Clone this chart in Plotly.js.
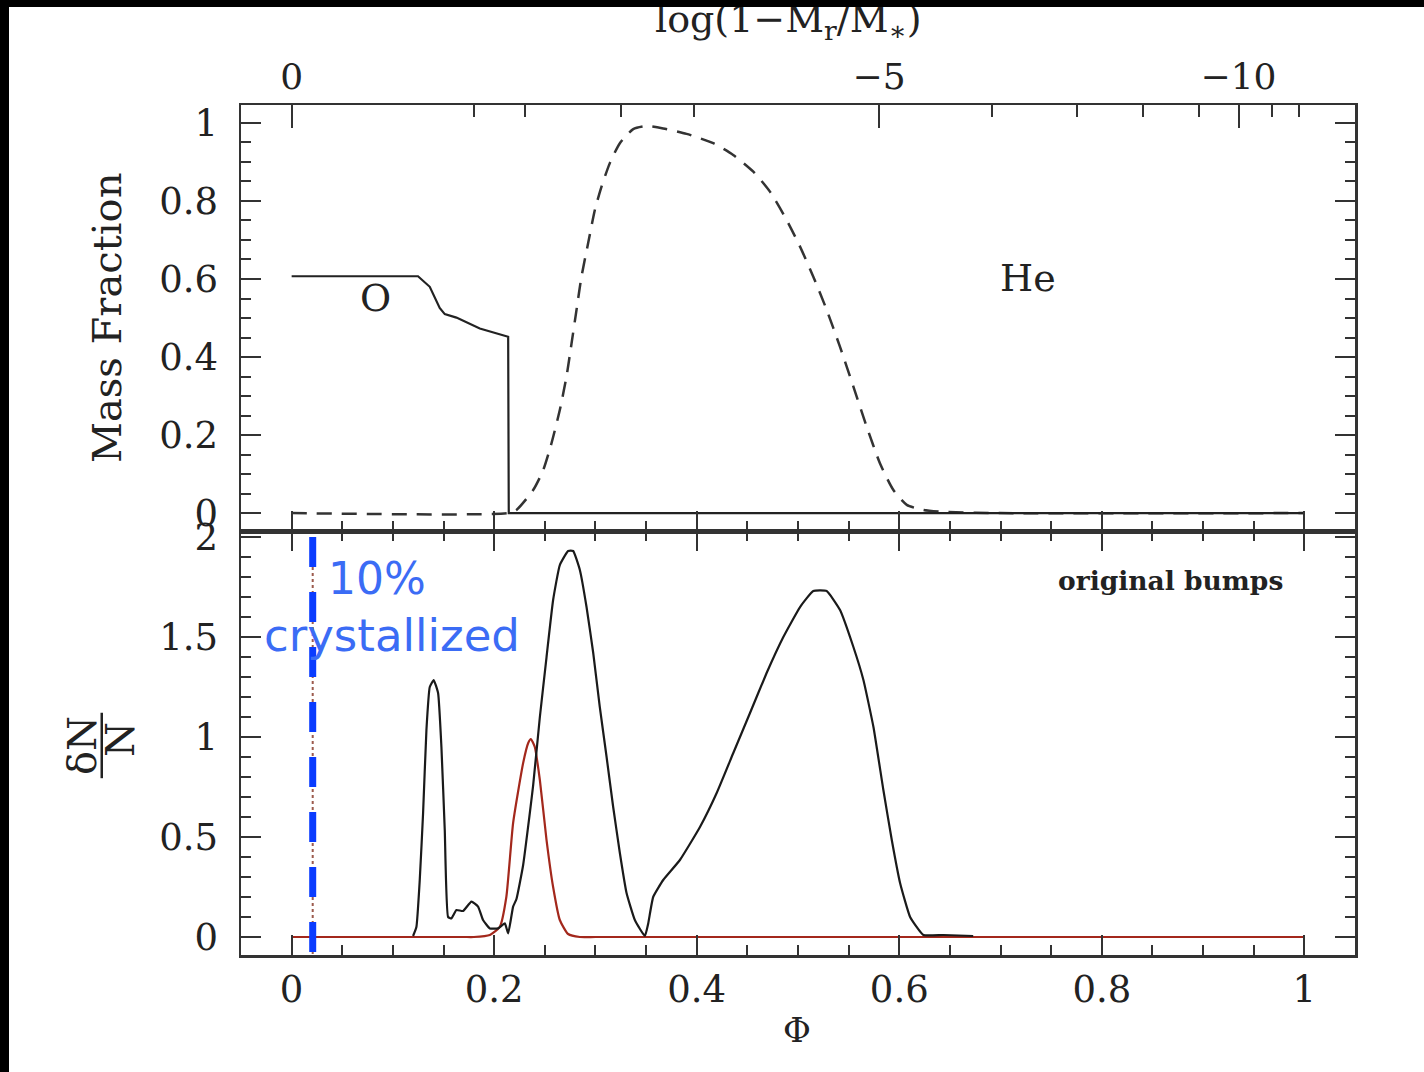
<!DOCTYPE html>
<html><head><meta charset="utf-8">
<script src="https://cdn.plot.ly/plotly-3.0.1.min.js"></script>
<style>
html,body{margin:0;padding:0;background:#000;width:1424px;height:1072px;overflow:hidden}
#plot{position:absolute;left:9px;top:7px;width:1415px;height:1065px;background:#fff}
</style></head><body><div id="plot"></div>
<script>
// ---- Top panel: mass fractions vs Phi ----
const oxyPhi = [0, 0.1248, 0.1364, 0.1462, 0.1512, 0.1627, 0.1858, 0.2138, 0.2144, 1.0];
const oxyVal = [0.607, 0.607, 0.580, 0.526, 0.510, 0.501, 0.473, 0.452, 0, 0];

const hePhi = [0, 0.2144, 0.222, 0.2385, 0.2484, 0.2566, 0.2648, 0.2714, 0.2764, 0.2813, 0.2862, 0.2928, 0.2994, 0.306, 0.3142, 0.3241, 0.3373, 0.3505, 0.3669, 0.390, 0.4163, 0.436, 0.4559, 0.4723, 0.4888, 0.502, 0.5151, 0.5283, 0.5415, 0.5547, 0.5679, 0.581, 0.5942, 0.6074, 0.6238, 0.6436, 0.70, 1.0];
const heVal = [0, 0, 0.008, 0.059, 0.110, 0.179, 0.264, 0.350, 0.435, 0.521, 0.606, 0.692, 0.777, 0.837, 0.897, 0.948, 0.984, 0.992, 0.986, 0.972, 0.948, 0.918, 0.875, 0.824, 0.751, 0.683, 0.606, 0.521, 0.426, 0.324, 0.221, 0.127, 0.059, 0.021, 0.008, 0.003, 0, 0];

// ---- Bottom panel: dN/N vs Phi ----
const bumpPhi = [0.1199, 0.1232, 0.1265, 0.1298, 0.1331, 0.1364, 0.1403, 0.1446, 0.1479, 0.1512, 0.1545, 0.1578, 0.1627, 0.1693, 0.1775, 0.1841, 0.1890, 0.1957, 0.2038, 0.2105, 0.2138, 0.2187, 0.222, 0.2286, 0.2385, 0.2451, 0.2517, 0.2582, 0.2648, 0.273, 0.278, 0.2846, 0.2912, 0.2978, 0.3043, 0.311, 0.3175, 0.3241, 0.3307, 0.3389, 0.3488, 0.3521, 0.357, 0.3669, 0.3834, 0.4032, 0.4197, 0.4361, 0.4526, 0.469, 0.4855, 0.502, 0.5151, 0.5283, 0.5415, 0.5547, 0.5646, 0.5745, 0.5843, 0.5926, 0.6008, 0.6107, 0.6238, 0.6436, 0.673];
const bumpVal = [0.005, 0.05, 0.285, 0.62, 1.035, 1.25, 1.285, 1.22, 0.95, 0.535, 0.10, 0.093, 0.135, 0.13, 0.177, 0.152, 0.085, 0.043, 0.043, 0.068, 0.018, 0.152, 0.19, 0.36, 0.76, 1.10, 1.40, 1.685, 1.86, 1.93, 1.93, 1.835, 1.65, 1.42, 1.15, 0.90, 0.65, 0.42, 0.22, 0.085, 0.005, 0.068, 0.20, 0.285, 0.385, 0.55, 0.72, 0.92, 1.12, 1.32, 1.50, 1.65, 1.73, 1.73, 1.635, 1.45, 1.285, 1.05, 0.735, 0.485, 0.27, 0.10, 0.01, 0.01, 0.005];

const newPhi = [0, 0.17, 0.18, 0.1957, 0.2055, 0.212, 0.2187, 0.2286, 0.2336, 0.2362, 0.2401, 0.2451, 0.2517, 0.2582, 0.2648, 0.273, 0.2846, 0.30, 0.50, 1.0];
const newVal = [0, 0, 0, 0.01, 0.05, 0.20, 0.57, 0.87, 0.97, 0.99, 0.95, 0.785, 0.485, 0.25, 0.085, 0.015, 0, 0, 0, 0];

const crystPhi = 0.0208;

// ---- Top (log) axis ticks ----
const topMajorPhi = [0, 0.580, 0.935];
const topMajorText = ['0', '\u22125', '\u221210'];
const topMinorPhi = [0.180, 0.230, 0.325, 0.397, 0.692, 0.775, 0.841, 0.896, 0.968, 0.995];

const INK = '#222';
const AX = '#333';
const FONT = 'DejaVu Serif';
const XR = [-0.05, 1.05];

const traces = [
  {x: newPhi, y: newVal, xaxis: 'x', yaxis: 'y', mode: 'lines',
   line: {color: '#a3281c', width: 2.2, shape: 'spline', smoothing: 0.5}, hoverinfo: 'skip'},
  {x: bumpPhi, y: bumpVal, xaxis: 'x', yaxis: 'y', mode: 'lines',
   line: {color: '#1a1a1a', width: 2.2, shape: 'spline', smoothing: 0.4}, hoverinfo: 'skip'},
  {x: hePhi, y: heVal, xaxis: 'x2', yaxis: 'y2', mode: 'lines',
   line: {color: '#333', width: 2.5, dash: '15px,10px', shape: 'spline', smoothing: 0.6}, hoverinfo: 'skip'},
  {x: oxyPhi, y: oxyVal, xaxis: 'x2', yaxis: 'y2', mode: 'lines',
   line: {color: INK, width: 2.2}, hoverinfo: 'skip'},
  {x: [0], y: [null], xaxis: 'x3', yaxis: 'y2', mode: 'lines', hoverinfo: 'skip'},
  {x: [0], y: [null], xaxis: 'x4', yaxis: 'y2', mode: 'lines', hoverinfo: 'skip'}
];

const tickCommon = {ticks: 'inside', tickwidth: 2, tickcolor: AX, showgrid: false, zeroline: false,
  showline: true, linewidth: 2.5, linecolor: AX};
const SPLIT = 0.4988;

const layout = {
  width: 1415, height: 1065,
  margin: {l: 232, r: 69, t: 98, b: 117, pad: 0},
  paper_bgcolor: '#fff', plot_bgcolor: '#fff',
  showlegend: false,
  font: {family: FONT, color: INK, size: 37},
  xaxis: Object.assign({}, tickCommon, {
    domain: [0, 1], anchor: 'y', range: XR, tick0: 0, dtick: 0.2, ticklen: 20,
    minor: {dtick: 0.05, tick0: 0, ticks: 'inside', ticklen: 10, tickwidth: 2, tickcolor: AX},
    mirror: 'ticks', tickfont: {family: FONT, size: 37, color: INK}, ticklabelstandoff: 0
  }),
  yaxis: Object.assign({}, tickCommon, {
    domain: [0, SPLIT], anchor: 'x', range: [-0.09, 2.03], tick0: 0, dtick: 0.5, ticklen: 20,
    minor: {dtick: 0.1, tick0: 0, ticks: 'inside', ticklen: 10, tickwidth: 2, tickcolor: AX},
    mirror: 'ticks', tickfont: {family: FONT, size: 37, color: INK}, ticklabelstandoff: 13
  }),
  xaxis2: Object.assign({}, tickCommon, {
    domain: [0, 1], anchor: 'y2', range: XR, tick0: 0, dtick: 0.2, ticklen: 20,
    minor: {dtick: 0.05, tick0: 0, ticks: 'inside', ticklen: 10, tickwidth: 2, tickcolor: AX},
    mirror: true, showticklabels: false
  }),
  yaxis2: Object.assign({}, tickCommon, {
    domain: [SPLIT, 1], anchor: 'x2', range: [-0.046, 1.046], tick0: 0, dtick: 0.2, ticklen: 20,
    minor: {dtick: 0.05, tick0: 0, ticks: 'inside', ticklen: 10, tickwidth: 2, tickcolor: AX},
    mirror: 'ticks', tickfont: {family: FONT, size: 37, color: INK}, ticklabelstandoff: 13
  }),
  xaxis3: {
    overlaying: 'x2', anchor: 'y2', side: 'top', range: XR,
    tickmode: 'array', tickvals: topMajorPhi, ticktext: topMajorText,
    ticks: 'inside', ticklen: 23, tickwidth: 2, tickcolor: AX,
    showline: false, showgrid: false, zeroline: false,
    tickfont: {family: FONT, size: 36, color: INK}, ticklabelstandoff: 8
  },
  xaxis4: {
    overlaying: 'x2', anchor: 'y2', side: 'top', range: XR,
    tickmode: 'array', tickvals: topMinorPhi,
    ticks: 'inside', ticklen: 12, tickwidth: 2, tickcolor: AX,
    showline: false, showgrid: false, zeroline: false, showticklabels: false
  },
  shapes: [
    {type: 'line', xref: 'x', yref: 'y domain', x0: crystPhi, x1: crystPhi, y0: 0.986, y1: 0,
     line: {color: '#9c5b4e', width: 2, dash: 'dot'}},
    {type: 'line', xref: 'x', yref: 'y domain', x0: crystPhi, x1: crystPhi, y0: 0.986, y1: 0,
     line: {color: '#0a3cff', width: 7, dash: '30px,25px'}},
    {type: 'line', xref: 'paper', yref: 'paper', x0: -0.125, x1: -0.125, y0: 0.208, y1: 0.285,
     line: {color: INK, width: 2.5}}
  ],
  annotations: [
    {text: 'log(1\u2212M<sub>r</sub>/M<sub>\u2217</sub>)', xref: 'paper', yref: 'paper', x: 0.491, y: 1.098,
     xanchor: 'center', yanchor: 'middle', showarrow: false, font: {family: FONT, size: 38, color: INK}},
    {text: 'Mass Fraction', xref: 'paper', yref: 'paper', x: -0.1203, y: 0.7494, textangle: -90,
     xanchor: 'center', yanchor: 'middle', showarrow: false, font: {family: FONT, size: 40, color: INK}},
    {text: '\u03b4N', xref: 'paper', yref: 'paper', x: -0.1427, y: 0.2459, textangle: -90,
     xanchor: 'center', yanchor: 'middle', showarrow: false, font: {family: FONT, size: 40, color: INK}},
    {text: 'N', xref: 'paper', yref: 'paper', x: -0.1086, y: 0.2529, textangle: -90,
     xanchor: 'center', yanchor: 'middle', showarrow: false, font: {family: FONT, size: 40, color: INK}},
    {text: '\u03a6', xref: 'paper', yref: 'paper', x: 0.4991, y: -0.0882,
     xanchor: 'center', yanchor: 'middle', showarrow: false, font: {family: FONT, size: 34, color: INK}},
    {text: 'O', xref: 'x2', yref: 'y2', x: 0.083, y: 0.551,
     xanchor: 'center', yanchor: 'middle', showarrow: false, font: {family: FONT, size: 38, color: INK}},
    {text: 'He', xref: 'x2', yref: 'y2', x: 0.727, y: 0.603,
     xanchor: 'center', yanchor: 'middle', showarrow: false, font: {family: FONT, size: 38, color: INK}},
    {text: '<b>original bumps</b>', xref: 'paper', yref: 'paper', x: 0.834, y: 0.441,
     xanchor: 'center', yanchor: 'middle', showarrow: false, font: {family: FONT, size: 26.5, color: INK}},
    {text: '10%', xref: 'paper', yref: 'paper', x: 0.122, y: 0.4435,
     xanchor: 'center', yanchor: 'middle', showarrow: false, font: {family: 'DejaVu Sans', size: 44, color: '#3b6cf5'}},
    {text: 'crystallized', xref: 'paper', yref: 'paper', x: 0.1351, y: 0.3753,
     xanchor: 'center', yanchor: 'middle', showarrow: false, font: {family: 'DejaVu Sans', size: 45, color: '#3b6cf5'}}
  ]
};

Plotly.newPlot('plot', traces, layout, {staticPlot: true, displayModeBar: false});
</script></body></html>
